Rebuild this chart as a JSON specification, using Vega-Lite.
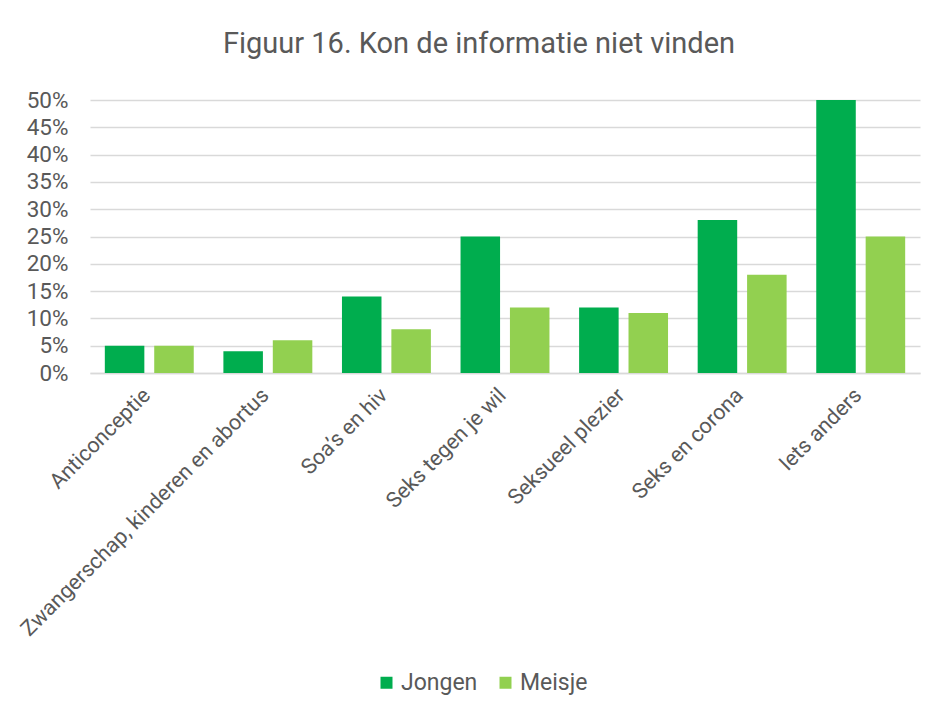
{
  "$schema": "https://vega.github.io/schema/vega-lite/v6.json",
  "autosize": "none",
  "width": 830,
  "height": 273,
  "padding": {"left": 90, "top": 100, "right": 21, "bottom": 341},
  "background": "white",
  "title": {
    "text": "Figuur 16. Kon de informatie niet vinden",
    "font": "Roboto",
    "fontSize": 29,
    "fontWeight": "normal",
    "color": "#595959",
    "anchor": "middle",
    "frame": "group",
    "dx": -26,
    "offset": 30
  },
  "data": {
    "values": [
      {"categorie": "Anticonceptie", "geslacht": "Jongen", "waarde": 0.05},
      {"categorie": "Anticonceptie", "geslacht": "Meisje", "waarde": 0.05},
      {"categorie": "Zwangerschap, kinderen en abortus", "geslacht": "Jongen", "waarde": 0.04},
      {"categorie": "Zwangerschap, kinderen en abortus", "geslacht": "Meisje", "waarde": 0.06},
      {"categorie": "Soa’s en hiv", "geslacht": "Jongen", "waarde": 0.14},
      {"categorie": "Soa’s en hiv", "geslacht": "Meisje", "waarde": 0.08},
      {"categorie": "Seks tegen je wil", "geslacht": "Jongen", "waarde": 0.25},
      {"categorie": "Seks tegen je wil", "geslacht": "Meisje", "waarde": 0.12},
      {"categorie": "Seksueel plezier", "geslacht": "Jongen", "waarde": 0.12},
      {"categorie": "Seksueel plezier", "geslacht": "Meisje", "waarde": 0.11},
      {"categorie": "Seks en corona", "geslacht": "Jongen", "waarde": 0.28},
      {"categorie": "Seks en corona", "geslacht": "Meisje", "waarde": 0.18},
      {"categorie": "Iets anders", "geslacht": "Jongen", "waarde": 0.50},
      {"categorie": "Iets anders", "geslacht": "Meisje", "waarde": 0.25}
    ]
  },
  "mark": {"type": "bar"},
  "encoding": {
    "x": {
      "field": "categorie",
      "type": "nominal",
      "sort": null,
      "scale": {"paddingInner": 0.25, "paddingOuter": 0.125},
      "axis": {
        "title": null,
        "labelAngle": -45,
        "labelAlign": "right",
        "labelBaseline": "middle",
        "labelFont": "Roboto",
        "labelFontSize": 21.5,
        "labelColor": "#595959",
        "labelPadding": 19,
        "labelOffset": -2,
        "ticks": false,
        "domainColor": "#d9d9d9",
        "domainWidth": 1.5,
        "labelLimit": 500
      }
    },
    "xOffset": {
      "field": "geslacht",
      "type": "nominal",
      "scale": {"paddingInner": 0.2, "paddingOuter": 0}
    },
    "y": {
      "field": "waarde",
      "type": "quantitative",
      "scale": {"domain": [0, 0.5]},
      "axis": {
        "title": null,
        "format": ".0%",
        "values": [0, 0.05, 0.1, 0.15, 0.2, 0.25, 0.3, 0.35, 0.4, 0.45, 0.5],
        "domain": false,
        "ticks": false,
        "labelPadding": 22,
        "labelFont": "Roboto",
        "labelFontSize": 22.5,
        "labelColor": "#595959",
        "gridColor": "#d9d9d9",
        "gridWidth": 1.5
      }
    },
    "color": {
      "field": "geslacht",
      "type": "nominal",
      "scale": {"domain": ["Jongen", "Meisje"], "range": ["#00ad4e", "#92d050"]},
      "legend": {
        "title": null,
        "orient": "none",
        "direction": "horizontal",
        "legendX": 285,
        "legendY": 571,
        "symbolType": "square",
        "symbolSize": 144,
        "symbolOpacity": 1,
        "symbolStrokeWidth": 0,
        "labelFont": "Roboto",
        "labelFontSize": 23,
        "labelColor": "#595959",
        "labelOffset": 3,
        "columnPadding": 16
      }
    }
  },
  "config": {
    "view": {"stroke": null}
  }
}
